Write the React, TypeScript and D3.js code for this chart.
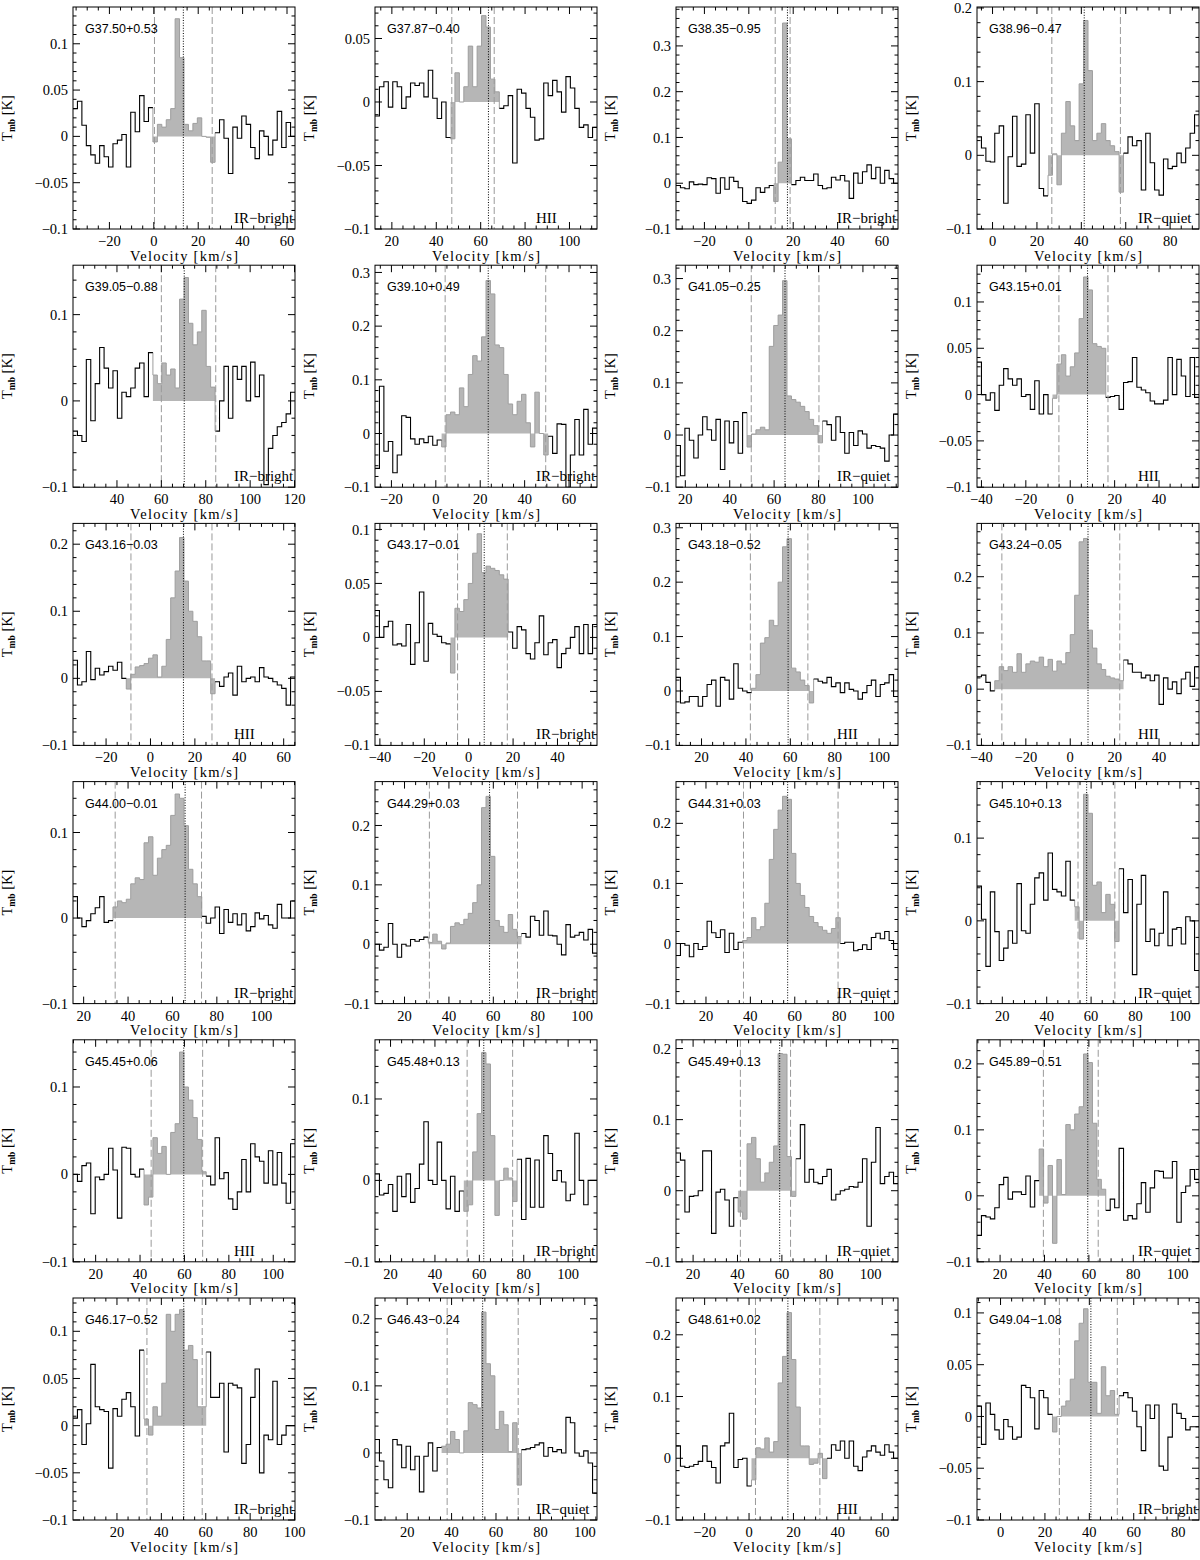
import React from "react";
import * as d3 from "d3";

// ---------- DATA ----------
const names = [
  "G37.50+0.53", "G37.87\u22120.40", "G38.35\u22120.95", "G38.96\u22120.47",
  "G39.05\u22120.88", "G39.10+0.49", "G41.05\u22120.25", "G43.15+0.01",
  "G43.16\u22120.03", "G43.17\u22120.01", "G43.18\u22120.52", "G43.24\u22120.05",
  "G44.00\u22120.01", "G44.29+0.03", "G44.31+0.03", "G45.10+0.13",
  "G45.45+0.06", "G45.48+0.13", "G45.49+0.13", "G45.89\u22120.51",
  "G46.17\u22120.52", "G46.43\u22120.24", "G48.61+0.02", "G49.04\u22121.08",
];
const types = [
  "IR\u2212bright", "HII", "IR\u2212bright", "IR\u2212quiet",
  "IR\u2212bright", "IR\u2212bright", "IR\u2212quiet", "HII",
  "HII", "IR\u2212bright", "HII", "HII",
  "IR\u2212bright", "IR\u2212bright", "IR\u2212quiet", "IR\u2212quiet",
  "HII", "IR\u2212bright", "IR\u2212quiet", "IR\u2212quiet",
  "IR\u2212bright", "IR\u2212quiet", "HII", "IR\u2212bright",
];
// velocity of the left plot edge / first channel (km/s)
const vStart = [-36.4, 12.4, -32.8, -7.0, 20.2, -27.4, 15.8, -42.0, -34.9, -42.2, 8.5, -42.0,
  15.2, 6.7, 6.5, 8.6, 9.8, 13.0, 12.3, 9.6, 0.2, 5.5, -32.9, -10.6];
// systemic velocity (dotted) and integration limits (dashed)
const vSys = [13.3, 63.5, 17.4, 41.3, 70.3, 23.6, 64.9, 7.8, 14.85, 7.0, 59.0, 8.0,
  65.7, 58.3, 56.8, 58.0, 59.7, 62.0, 59.0, 59.5, 50.1, 54.0, 17.5, 40.7];
const vLimLo = [0.3, 47.0, 11.9, 26.7, 60.0, 4.2, 49.7, -5.1, -8.8, -5.0, 42.0, -30.8,
  34.2, 31.2, 36.9, 54.1, 45.0, 54.5, 41.3, 39.5, 33.5, 38.0, 2.9, 26.5];
const vLimHi = [26.3, 66.1, 18.6, 57.6, 84.5, 49.5, 80.2, 17.0, 27.7, 17.4, 67.9, 22.3,
  73.1, 70.9, 79.5, 70.7, 68.2, 75.0, 63.9, 64.2, 58.4, 70.0, 31.9, 52.6];
// shaded channel window (first, last channel index)
const winFirst = [18, 17, 22, 16, 18, 15, 16, 17, 12, 17, 17, 4, 9, 12, 15, 22, 16, 20, 14, 14, 16, 15, 17, 17];
const winLast = [31, 27, 25, 32, 31, 38, 32, 28, 31, 29, 30, 32, 28, 32, 36, 31, 29, 31, 26, 28, 29, 32, 33, 31];
const channelWidth = 2.0; // km/s
const velocitySpan = 100; // km/s shown per panel

// spectra (Tmb, K), one value per channel
const s01 = [0.03, 0.038, 0.012, -0.01, -0.02, -0.029, -0.01, -0.022, -0.033, -0.008, -0.004, 0.002, -0.033, 0.026, 0.005, 0.044, 0.016, 0.031,
  -0.006, 0.013, 0.01, 0.018, 0.03, 0.127, 0.085, 0.013, 0.006, 0.014, 0.02, 0.0, -0.001, -0.028,
  0.004, 0.018, -0.002, -0.04, 0.01, -0.002, 0.022, 0.013, -0.012, -0.024, 0.006, 0.0, -0.02, -0.004, 0.027, -0.012, 0.015, 0.0];
const s02 = [-0.011, 0.012, 0.016, -0.004, 0.016, 0.012, -0.005, 0.004, 0.015, 0.013, 0.015, 0.004, 0.025, 0.003, -0.013, 0.0, -0.028,
  -0.029, 0.023, 0.0, 0.012, 0.044, 0.012, 0.044, 0.068, 0.059, 0.018, 0.008,
  -0.005, -0.003, 0.005, -0.048, 0.01, 0.007, -0.005, -0.012, -0.03, -0.029, 0.015, 0.005, 0.017, 0.008, -0.008, 0.02, 0.011, -0.005, -0.02, -0.018, -0.028, -0.02];
const s03 = [-0.005, -0.01, -0.012, 0.003, -0.003, -0.002, -0.003, 0.012, 0.01, -0.022, 0.012, -0.013, 0.013, 0.004, -0.01, -0.04, -0.044, -0.037, -0.01, -0.02, -0.01, -0.005,
  -0.04, 0.046, 0.35, 0.097,
  -0.003, 0.006, 0.013, 0.006, 0.006, 0.02, -0.005, -0.012, -0.01, 0.013, 0.007, 0.017, 0.005, -0.033, 0.022, 0.0, 0.025, 0.04, 0.01, 0.035, 0.0, 0.028, 0.01, 0.0];
const s04 = [0.025, 0.01, -0.008, -0.009, 0.03, 0.04, -0.065, -0.002, 0.053, -0.015, -0.012, 0.055, 0.003, 0.07, -0.045, -0.055,
  -0.027, 0.002, -0.04, 0.03, 0.073, 0.04, 0.02, 0.097, 0.183, 0.115, 0.02, 0.03, 0.043, 0.02, 0.013, 0.005, -0.05,
  0.003, 0.025, 0.013, 0.02, -0.047, 0.03, -0.01, -0.047, -0.054, -0.005, -0.018, -0.015, 0.003, -0.01, 0.01, 0.03, 0.055];
const s05 = [-0.035, -0.04, -0.047, 0.048, -0.023, 0.02, 0.062, 0.038, 0.015, 0.035, -0.02, 0.01, 0.005, 0.015, 0.038, 0.044, 0.005, 0.056,
  0.03, 0.02, 0.044, 0.03, 0.037, 0.015, 0.118, 0.143, 0.09, 0.065, 0.08, 0.105, 0.04, 0.016,
  -0.035, 0.0, 0.04, -0.02, 0.04, 0.025, 0.04, 0.0, 0.045, 0.005, 0.03, -0.097, -0.055, -0.04, -0.03, -0.025, -0.015, 0.01];
const s06 = [-0.065, 0.088, -0.033, -0.015, -0.073, -0.04, 0.033, 0.03, -0.01, -0.02, -0.01, -0.017, -0.005, -0.022, -0.012,
  -0.025, 0.035, 0.04, 0.035, 0.085, 0.05, 0.11, 0.145, 0.135, 0.18, 0.285, 0.26, 0.165, 0.16, 0.11, 0.055, 0.035, 0.06, 0.073, 0.02, -0.025, 0.077, 0.0, -0.04,
  -0.005, -0.037, 0.018, 0.017, -0.1, -0.04, 0.026, -0.04, 0.045, -0.02, 0.01];
const s07 = [-0.02, -0.078, 0.013, -0.01, -0.044, 0.0, 0.035, 0.01, -0.01, 0.03, -0.066, 0.027, -0.015, 0.026, -0.035, 0.043,
  -0.023, 0.002, 0.01, 0.015, 0.01, 0.17, 0.21, 0.23, 0.296, 0.075, 0.068, 0.063, 0.055, 0.045, 0.03, 0.018, -0.015,
  0.027, 0.02, -0.01, 0.035, 0.005, -0.035, 0.005, -0.02, 0.008, 0.002, -0.025, -0.02, -0.022, -0.025, -0.05, 0.0, 0.04];
const s08 = [0.035, 0.0, -0.006, 0.002, -0.017, 0.01, 0.028, 0.017, 0.01, 0.017, -0.002, 0.0, -0.016, 0.015, -0.021, 0.0, -0.021,
  -0.004, 0.033, 0.043, 0.02, 0.03, 0.045, 0.082, 0.127, 0.113, 0.055, 0.052, 0.05,
  -0.003, -0.002, -0.001, -0.016, 0.013, 0.014, 0.04, 0.008, 0.005, 0.002, -0.007, -0.01, -0.01, -0.006, 0.04, 0.0, 0.038, 0.02, -0.002, 0.04, -0.003];
const s09 = [0.027, -0.01, -0.005, 0.04, -0.002, 0.015, 0.005, 0.01, 0.018, 0.012, 0.024, 0.0,
  -0.016, 0.006, 0.017, 0.019, 0.022, 0.03, 0.035, 0.002, 0.018, 0.058, 0.12, 0.16, 0.21, 0.145, 0.1, 0.085, 0.062, 0.026, 0.026, -0.023,
  -0.005, -0.012, 0.002, 0.008, -0.025, 0.018, -0.005, 0.0, 0.002, -0.005, 0.016, 0.002, 0.0, -0.005, -0.01, -0.015, -0.04, 0.002];
const s10 = [0.025, 0.0, 0.01, 0.015, -0.007, -0.006, -0.008, 0.012, -0.025, -0.005, 0.042, -0.022, 0.013, 0.003, 0.001, -0.005, -0.006,
  -0.033, 0.027, 0.024, 0.035, 0.05, 0.078, 0.096, 0.06, 0.066, 0.064, 0.062, 0.058, 0.054,
  0.005, -0.01, 0.01, 0.007, -0.015, -0.02, -0.005, 0.02, -0.016, -0.005, -0.002, -0.028, -0.015, -0.01, 0.0, 0.01, -0.015, 0.012, -0.015, 0.012];
const s11 = [0.025, -0.022, -0.02, -0.01, -0.01, -0.028, -0.01, 0.012, 0.02, -0.028, 0.025, 0.02, -0.015, 0.05, 0.005, 0.0, -0.003,
  0.005, 0.03, 0.088, 0.098, 0.13, 0.12, 0.2, 0.265, 0.28, 0.042, 0.035, 0.02, 0.01, -0.022,
  0.022, 0.018, 0.015, 0.025, 0.008, 0.015, -0.003, 0.015, 0.003, 0.0, -0.015, -0.003, 0.01, 0.02, -0.01, 0.012, 0.015, 0.03, -0.01];
const s12 = [0.022, 0.025, 0.012, -0.003,
  0.015, 0.04, 0.033, 0.04, 0.03, 0.063, 0.03, 0.045, 0.05, 0.048, 0.057, 0.04, 0.053, 0.032, 0.05, 0.045, 0.065, 0.097, 0.167, 0.262, 0.268, 0.105, 0.073, 0.045, 0.035, 0.023, 0.02, 0.018, 0.015,
  0.052, 0.045, 0.03, 0.03, 0.02, 0.025, 0.015, 0.025, -0.027, 0.02, 0.0, 0.013, -0.008, 0.018, 0.03, 0.005, 0.04];
const s13 = [0.025, 0.0, -0.01, -0.003, 0.005, 0.012, 0.025, -0.005, -0.003,
  0.013, 0.02, 0.018, 0.022, 0.04, 0.047, 0.045, 0.088, 0.095, 0.05, 0.07, 0.08, 0.085, 0.12, 0.145, 0.14, 0.108, 0.057, 0.04, 0.025,
  0.002, -0.006, 0.0, 0.013, -0.018, 0.01, -0.005, 0.005, -0.008, 0.005, -0.015, -0.01, 0.006, -0.001, 0.003, -0.008, -0.012, 0.016, 0.0, 0.0, 0.02];
const s14 = [0.0, -0.01, -0.005, 0.035, 0.0, -0.022, 0.0, -0.003, 0.008, 0.005, 0.008, 0.012,
  0.003, 0.017, 0.005, -0.008, 0.002, 0.03, 0.036, 0.033, 0.042, 0.052, 0.07, 0.1, 0.23, 0.249, 0.148, 0.04, 0.03, 0.02, 0.05, 0.025, 0.013,
  0.018, 0.012, 0.047, 0.04, 0.015, 0.056, 0.015, 0.014, 0.0, -0.018, 0.033, 0.012, 0.015, 0.02, 0.007, 0.025, -0.015];
const s15 = [-0.02, 0.0, -0.003, -0.022, 0.0, -0.01, -0.005, 0.037, 0.018, 0.01, 0.023, -0.015, 0.017, -0.01, 0.002,
  0.005, 0.01, 0.043, 0.023, 0.028, 0.067, 0.14, 0.19, 0.222, 0.245, 0.24, 0.15, 0.1, 0.08, 0.06, 0.045, 0.035, 0.028, 0.022, 0.017, 0.025, 0.043,
  0.0, 0.002, 0.002, -0.012, -0.01, -0.002, -0.01, 0.01, 0.017, 0.008, 0.02, 0.005, -0.01];
const s16 = [0.042, 0.002, -0.055, 0.035, -0.013, -0.048, -0.033, -0.012, -0.027, 0.045, -0.012, -0.015, 0.02, 0.052, 0.058, 0.025, 0.082, 0.038, 0.035, 0.03, 0.072, 0.025,
  0.017, -0.022, 0.153, 0.13, 0.043, 0.047, 0.01, 0.032, 0.02, -0.025,
  0.063, 0.01, 0.05, -0.065, 0.02, 0.055, -0.025, -0.01, -0.03, -0.015, 0.035, -0.03, -0.01, -0.008, -0.028, 0.005, 0.0, -0.06];
const s17 = [0.0, -0.008, 0.01, 0.013, -0.045, -0.003, -0.006, 0.0, 0.03, 0.005, -0.05, 0.031, 0.03, 0.0, -0.003, 0.006,
  -0.035, -0.026, 0.042, 0.024, 0.032, 0.0, 0.048, 0.058, 0.14, 0.1, 0.085, 0.065, 0.04, 0.003,
  -0.002, -0.012, 0.042, -0.005, 0.002, -0.028, -0.04, -0.02, 0.017, -0.02, 0.035, 0.02, 0.015, -0.01, 0.027, -0.012, 0.025, -0.01, -0.033, 0.035];
const s18 = [0.008, -0.018, -0.016, -0.005, -0.038, 0.005, -0.02, 0.008, -0.027, -0.01, 0.02, 0.072, 0.0, -0.005, 0.047, 0.0, -0.035, 0.005, -0.038, -0.013,
  -0.038, -0.03, 0.035, 0.082, 0.157, 0.143, 0.055, -0.043, 0.0, 0.015, 0.003, -0.026,
  0.026, -0.048, 0.027, -0.033, 0.025, -0.033, 0.055, 0.033, 0.0, 0.012, -0.002, -0.025, -0.017, 0.058, 0.0, -0.03, 0.0, 0.0];
const s19 = [0.053, 0.043, -0.03, -0.008, -0.007, 0.0, 0.056, 0.056, -0.06, -0.002, 0.002, -0.013, -0.05, -0.01,
  -0.03, -0.04, 0.066, 0.075, 0.045, 0.012, 0.025, 0.04, 0.063, 0.193, 0.192, 0.048, -0.008,
  0.045, 0.093, 0.012, 0.03, 0.012, 0.01, 0.02, 0.03, -0.013, -0.005, 0.0, 0.002, 0.006, 0.005, 0.012, 0.045, -0.05, 0.04, 0.089, 0.01, 0.02, 0.026, 0.01];
const s20 = [-0.06, -0.03, -0.032, -0.035, -0.018, 0.017, 0.028, -0.005, 0.006, 0.006, 0.002, 0.03, -0.017, 0.023,
  0.071, -0.011, 0.046, -0.072, 0.055, 0.002, 0.108, 0.1, 0.124, 0.135, 0.215, 0.202, 0.11, 0.025, 0.01,
  -0.022, -0.005, -0.018, 0.072, -0.037, -0.03, -0.035, -0.012, 0.02, -0.025, 0.012, 0.038, 0.037, 0.027, 0.027, 0.052, -0.04, 0.005, 0.015, 0.04, 0.025];
const s21 = [0.008, 0.017, -0.02, 0.002, 0.065, 0.02, 0.017, 0.015, -0.045, 0.018, 0.01, 0.028, 0.035, 0.02, -0.011, 0.08,
  0.007, -0.01, 0.02, 0.01, 0.045, 0.118, 0.1, 0.118, 0.123, 0.08, 0.085, 0.07, 0.02, 0.02,
  0.078, 0.03, 0.03, 0.045, -0.028, 0.045, 0.043, 0.04, -0.04, -0.02, 0.03, 0.06, -0.05, -0.01, -0.015, 0.047, -0.02, -0.01, 0.0, 0.0];
const s22 = [0.02, -0.012, -0.04, -0.052, 0.02, 0.012, -0.022, 0.01, -0.025, -0.005, -0.058, -0.005, 0.015, -0.027, 0.008,
  0.01, 0.013, 0.032, 0.02, 0.0, 0.033, 0.075, 0.072, 0.067, 0.21, 0.133, 0.115, 0.035, 0.062, 0.042, 0.002, 0.045, -0.048,
  0.005, 0.006, 0.008, 0.012, 0.015, -0.005, 0.008, 0.002, 0.005, 0.0, 0.053, 0.045, 0.0, -0.005, 0.003, -0.015, -0.06];
const s23 = [0.02, -0.013, -0.015, -0.013, -0.01, -0.005, 0.02, -0.005, -0.015, -0.04, 0.02, 0.025, 0.073, -0.015, -0.002, 0.0, -0.045,
  -0.035, 0.017, 0.015, 0.033, 0.01, 0.027, 0.122, 0.165, 0.236, 0.16, 0.083, 0.02, 0.02, -0.01, -0.008, 0.008, -0.033,
  0.0, 0.022, 0.013, 0.028, 0.0, 0.028, -0.013, -0.02, 0.002, 0.012, 0.02, 0.01, 0.005, 0.022, 0.01, 0.0];
const s24 = [0.01, -0.027, 0.013, 0.002, -0.013, -0.022, -0.003, -0.01, -0.022, -0.02, 0.03, 0.028, 0.018, -0.012, 0.025, 0.018, 0.002,
  -0.015, 0.0, 0.01, 0.015, 0.036, 0.073, 0.09, 0.104, 0.033, 0.033, 0.003, 0.048, 0.02, 0.025, 0.002,
  0.02, 0.023, 0.018, 0.005, -0.01, -0.033, 0.011, -0.002, 0.011, -0.048, -0.052, -0.02, 0.012, 0.003, -0.002, -0.013, -0.01, -0.01];
const spectra = [s01, s02, s03, s04, s05, s06, s07, s08, s09, s10, s11, s12,
  s13, s14, s15, s16, s17, s18, s19, s20, s21, s22, s23, s24];

// ---------- LAYOUT ----------
const COL_LEFT = [73, 375, 676, 977];
const PW = 222;
const PH = 222;
const BOTTOM0 = 229;
const ROW_PITCH = 258.2;
const SERIF = "'Liberation Serif', 'DejaVu Serif', serif";
const SANS = "'Liberation Sans', Arial, sans-serif";

function fmt(v: number): string {
  const r = Math.round(v * 1000) / 1000;
  if (r === 0) return "0";
  return (r < 0 ? "\u2212" : "") + String(Math.abs(r));
}

type P = [number, number];

function Panel({ i }: { i: number }) {
  const col = i % 4;
  const row = Math.floor(i / 4);
  const left = COL_LEFT[col];
  const right = left + PW;
  const bottom = BOTTOM0 + row * ROW_PITCH;
  const top = bottom - PH;
  const T = spectra[i];
  const lo = vStart[i];
  const hi = lo + velocitySpan;
  const ymax = 1.1 * (d3.max(T) as number);
  const x = d3.scaleLinear().domain([lo, hi]).range([left, right]);
  const y = d3.scaleLinear().domain([-0.1, ymax]).range([bottom, top]);

  const vAt = (k: number) => lo + k * channelWidth;
  const pts: P[] = T.map((t, k) => [vAt(k), t]);
  const s0 = winFirst[i];
  const s1 = winLast[i];

  const line = d3.line<P>().x((d) => x(d[0])).y((d) => y(d[1])).curve(d3.curveStepAfter);
  const area = d3.area<P>().x((d) => x(d[0])).y0(y(0)).y1((d) => y(d[1])).curve(d3.curveStepAfter);

  // black outline outside the window (ends horizontally at the window edges)
  const segA: P[] = pts.slice(0, s0).concat([[vAt(s0), T[s0 - 1]]]);
  const segB: P[] = pts.slice(s1 + 1).concat([[vAt(T.length), T[T.length - 1]]]);
  // shaded window
  const win: P[] = pts.slice(s0, s1 + 1).concat([[vAt(s1 + 1), T[s1]]]);
  const winEdge: P[] = ([[vAt(s0), T[s0 - 1]]] as P[])
    .concat(pts.slice(s0, s1 + 1))
    .concat([[vAt(s1 + 1), T[s1 + 1]]]);

  const xMajor = d3.range(Math.ceil(lo / 20) * 20, hi + 1e-9, 20);
  const xMinor = d3.range(Math.ceil(lo / 5) * 5, hi + 1e-9, 5).filter((v) => Math.abs(v % 20) > 1e-6);
  const step = ymax + 0.1 < 0.25 ? 0.05 : 0.1;
  const nMaj = Math.floor((ymax + 0.1) / step + 1e-9);
  const yMajor = d3.range(0, nMaj + 1).map((k) => Math.round((-0.1 + k * step) * 1000) / 1000);
  const minStep = step / 5;
  const nMin = Math.floor((ymax + 0.1) / minStep + 1e-9);
  const yMinor = d3.range(0, nMin + 1).map((k) => -0.1 + k * minStep).filter((_, k) => k % 5 !== 0);

  const clipId = `clip${i}`;
  const MJ = 7;
  const MN = 3.5;

  return (
    <g>
      <defs>
        <clipPath id={clipId}>
          <rect x={left} y={top} width={PW} height={PH} />
        </clipPath>
      </defs>
      <g clipPath={`url(#${clipId})`}>
        <path d={area(win) || ""} fill="#b6b6b6" stroke="none" />
        <path d={line(winEdge) || ""} fill="none" stroke="#9e9e9e" strokeWidth={1} />
        <path d={line(segA) || ""} fill="none" stroke="#000" strokeWidth={1.1} />
        <path d={line(segB) || ""} fill="none" stroke="#000" strokeWidth={1.1} />
        <line x1={x(vLimLo[i])} x2={x(vLimLo[i])} y1={top} y2={bottom} stroke="#9a9a9a" strokeWidth={1} strokeDasharray="7,3" />
        <line x1={x(vLimHi[i])} x2={x(vLimHi[i])} y1={top} y2={bottom} stroke="#9a9a9a" strokeWidth={1} strokeDasharray="7,3" />
        <line x1={x(vSys[i])} x2={x(vSys[i])} y1={top} y2={bottom} stroke="#000" strokeWidth={1} strokeDasharray="1,1.6" />
      </g>
      {/* ticks */}
      <g stroke="#000" strokeWidth={1}>
        {xMajor.map((v) => (
          <g key={`xm${v}`}>
            <line x1={x(v)} x2={x(v)} y1={bottom} y2={bottom - MJ} />
            <line x1={x(v)} x2={x(v)} y1={top} y2={top + MJ} />
          </g>
        ))}
        {xMinor.map((v) => (
          <g key={`xn${v}`}>
            <line x1={x(v)} x2={x(v)} y1={bottom} y2={bottom - MN} />
            <line x1={x(v)} x2={x(v)} y1={top} y2={top + MN} />
          </g>
        ))}
        {yMajor.map((v) => (
          <g key={`ym${v}`}>
            <line x1={left} x2={left + MJ} y1={y(v)} y2={y(v)} />
            <line x1={right} x2={right - MJ} y1={y(v)} y2={y(v)} />
          </g>
        ))}
        {yMinor.map((v, k) => (
          <g key={`yn${k}`}>
            <line x1={left} x2={left + MN} y1={y(v)} y2={y(v)} />
            <line x1={right} x2={right - MN} y1={y(v)} y2={y(v)} />
          </g>
        ))}
      </g>
      <rect x={left} y={top} width={PW} height={PH} fill="none" stroke="#000" strokeWidth={1} />
      {/* tick labels */}
      <g fontFamily={SERIF} fontSize={14.5} fill="#000">
        {xMajor.map((v) => (
          <text key={`xl${v}`} x={x(v)} y={bottom + 17} textAnchor="middle">{fmt(v)}</text>
        ))}
        {yMajor.map((v) => (
          <text key={`yl${v}`} x={left - 5} y={y(v)} dy="0.35em" textAnchor="end">{fmt(v)}</text>
        ))}
      </g>
      <text x={(left + right) / 2} y={bottom + 31.5} textAnchor="middle" fontFamily={SERIF} fontSize={14.5}
        textLength={108} lengthAdjust="spacing">
        Velocity [km/s]
      </text>
      <text transform={`translate(${left - 61},${(top + bottom) / 2}) rotate(-90)`} textAnchor="middle" fontFamily={SERIF} fontSize={14.5}>
        T<tspan fontSize={9.5} fontWeight="bold" dy={3}>mb</tspan><tspan dy={-3}> [K]</tspan>
      </text>
      <text x={left + 12} y={top + 26} fontFamily={SANS} fontSize={12.5}>{names[i]}</text>
      <text x={left + 161} y={bottom - 6} fontFamily={SERIF} fontSize={15}>{types[i]}</text>
    </g>
  );
}

export default function App() {
  return (
    <svg width={1200} height={1560} style={{ position: "absolute", left: 0, top: 0, background: "#fff" }}>
      <rect x={0} y={0} width={1200} height={1560} fill="#fff" />
      {names.map((_, i) => (
        <Panel key={i} i={i} />
      ))}
    </svg>
  );
}
